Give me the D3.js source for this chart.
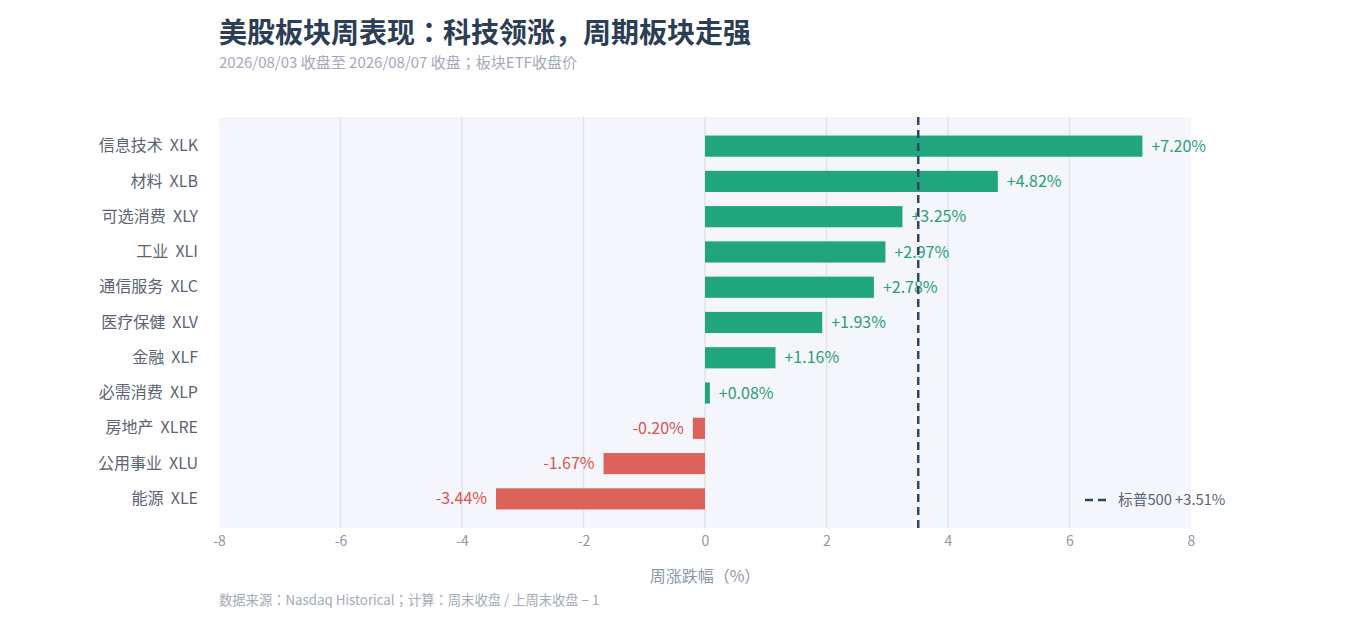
<!DOCTYPE html>
<html lang="ja">
<head>
<meta charset="utf-8">
<style>
  body { margin: 0; background: #fff; font-family: "Noto Sans CJK JP", "Noto Sans", sans-serif; }
</style>
</head>
<body>
<script src="https://d3js.org/d3.v7.min.js"></script>
<script>
// sector data, top to bottom
var sectors = ["信息技术  XLK", "材料  XLB", "可选消费  XLY", "工业  XLI", "通信服务  XLC",
  "医疗保健  XLV", "金融  XLF", "必需消费  XLP", "房地产  XLRE", "公用事业  XLU", "能源  XLE"];
var weeklyChange = [7.20, 4.82, 3.25, 2.97, 2.78, 1.93, 1.16, 0.08, -0.20, -1.67, -3.44];
var benchmark = 3.51;
var xTicks = [-8, -6, -4, -2, 0, 2, 4, 6, 8];

var width = 1359, height = 632;
var plotL = 219, plotR = 1191, plotT = 117, plotB = 528;
var font = "Noto Sans CJK JP, Noto Sans, sans-serif";

var svg = d3.select("body").append("svg")
  .attr("width", width)
  .attr("height", height)
  .attr("font-family", font);

// title + subtitle
svg.append("text").attr("x", plotL).attr("y", 43)
  .attr("font-size", 28).attr("font-weight", 700).attr("fill", "#2c3e55")
  .text("美股板块周表现：科技领涨，周期板块走强");
svg.append("text").attr("x", plotL).attr("y", 68)
  .attr("font-size", 15).attr("fill", "#a3aab8")
  .text("2026/08/03 收盘至 2026/08/07 收盘；板块ETF收盘价");

var x = d3.scaleLinear().domain([-8, 8]).range([plotL, plotR]);
var y = d3.scaleBand().domain(sectors).range([128.5, 516.5])
  .paddingInner(0.4).paddingOuter(0.2);

// plot background
svg.append("rect").attr("x", plotL).attr("y", plotT)
  .attr("width", plotR - plotL).attr("height", plotB - plotT)
  .attr("fill", "#f4f6fb");

// grid
svg.append("g").selectAll("line")
  .data(xTicks.filter(function (d) { return d > -8 && d < 8; }))
  .join("line")
  .attr("x1", function (d) { return x(d); })
  .attr("x2", function (d) { return x(d); })
  .attr("y1", plotT).attr("y2", plotB)
  .attr("stroke", "#e0e3ea").attr("stroke-width", 1.5);

// x axis
var xAxis = svg.append("g")
  .attr("transform", "translate(0," + plotB + ")")
  .call(d3.axisBottom(x).tickValues(xTicks).tickSize(0).tickPadding(8).tickFormat(d3.format("d")));
xAxis.select(".domain").remove();
xAxis.selectAll("text").attr("font-size", 14).attr("fill", "#8e97a8")
  .attr("font-family", font)
  .text(function (d) { return d < 0 ? "-" + Math.abs(d) : d; });

svg.append("text").attr("x", x(0)).attr("y", 582)
  .attr("text-anchor", "middle").attr("font-size", 16).attr("fill", "#8e97a8")
  .text("周涨跌幅（%）");

// y axis labels
var yAxis = svg.append("g")
  .attr("transform", "translate(" + plotL + ",0)")
  .call(d3.axisLeft(y).tickSize(0).tickPadding(21));
yAxis.select(".domain").remove();
yAxis.selectAll("text").attr("font-size", 16).attr("fill", "#5b6475")
  .attr("font-family", font)
  .style("white-space", "pre");

var rows = sectors.map(function (s, i) { return { name: s, value: weeklyChange[i] }; });

// bars
svg.append("g").selectAll("rect")
  .data(rows)
  .join("rect")
  .attr("x", function (d) { return x(Math.min(0, d.value)); })
  .attr("y", function (d) { return y(d.name); })
  .attr("width", function (d) { return Math.abs(x(d.value) - x(0)); })
  .attr("height", y.bandwidth())
  .attr("fill", function (d) { return d.value >= 0 ? "#21a57c" : "#db6359"; });

// value labels
svg.append("g").selectAll("text")
  .data(rows)
  .join("text")
  .attr("x", function (d) { return d.value >= 0 ? x(d.value) + 9 : x(d.value) - 9; })
  .attr("y", function (d) { return y(d.name) + y.bandwidth() / 2; })
  .attr("dy", "0.35em")
  .attr("text-anchor", function (d) { return d.value >= 0 ? "start" : "end"; })
  .attr("font-size", 16)
  .attr("fill", function (d) { return d.value >= 0 ? "#2a9e7a" : "#d9544c"; })
  .text(function (d) { return (d.value >= 0 ? "+" : "-") + Math.abs(d.value).toFixed(2) + "%"; });

// benchmark line
svg.append("line")
  .attr("x1", x(benchmark)).attr("x2", x(benchmark))
  .attr("y1", plotT).attr("y2", plotB)
  .attr("stroke", "#2c4866").attr("stroke-width", 2.5)
  .attr("stroke-dasharray", "8,5");

// legend
svg.append("line")
  .attr("x1", 1085).attr("x2", 1111).attr("y1", 500).attr("y2", 500)
  .attr("stroke", "#2c4866").attr("stroke-width", 2.5)
  .attr("stroke-dasharray", "8,5");
svg.append("text").attr("x", 1118).attr("y", 500).attr("dy", "0.35em")
  .attr("font-size", 14.7).attr("fill", "#5b6475")
  .text("标普500 +" + benchmark.toFixed(2) + "%");

// footer
svg.append("text").attr("x", plotL).attr("y", 605)
  .attr("font-size", 13.3).attr("fill", "#a3aab8")
  .text("数据来源：Nasdaq Historical；计算：周末收盘 / 上周末收盘 − 1");
</script>
</body>
</html>
